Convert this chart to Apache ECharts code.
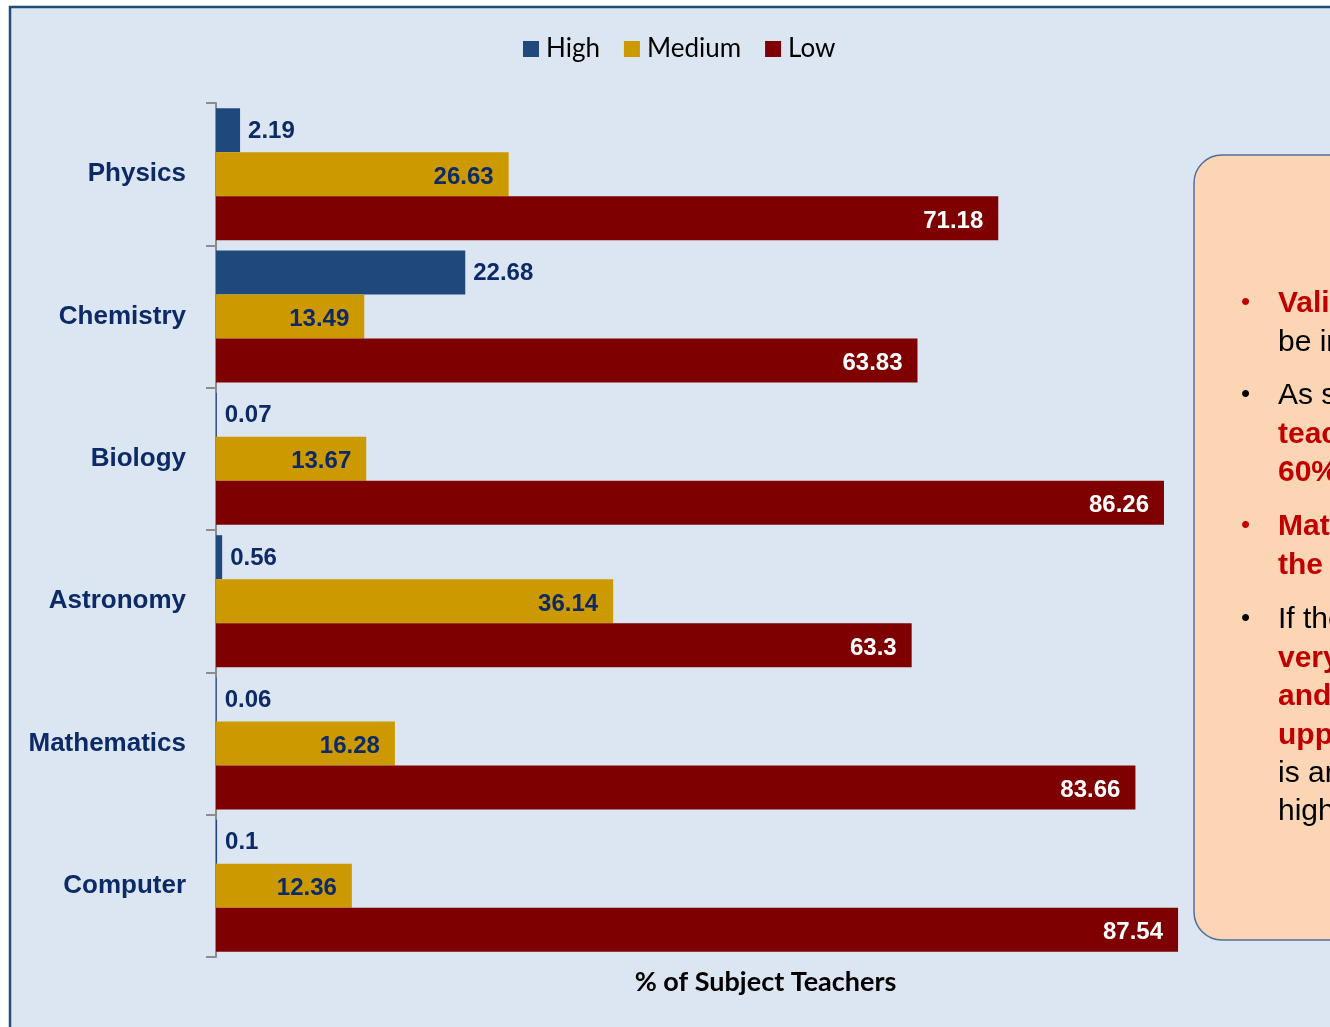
<!DOCTYPE html>
<html>
<head>
<meta charset="utf-8">
<script src="https://cdn.jsdelivr.net/npm/echarts@6/dist/echarts.min.js"></script>
<style>
  html, body { margin: 0; padding: 0; background: #ffffff; }
  #chart { width: 1330px; height: 1027px; }
</style>
</head>
<body>
<div id="chart"></div>
<script>
// Subjects, top to bottom
const subjects = ['Physics', 'Chemistry', 'Biology', 'Astronomy', 'Mathematics', 'Computer'];
// Share of subject teachers (%) per level
const highValues = [2.19, 22.68, 0.07, 0.56, 0.06, 0.1];
const mediumValues = [26.63, 13.49, 13.67, 36.14, 16.28, 12.36];
const lowValues = [71.18, 63.83, 86.26, 63.3, 83.66, 87.54];
const seriesNames = ['High', 'Medium', 'Low'];
const axisTitle = '% of Subject Teachers';

// Side note lines: [text, bold red?, bullet?]
const noteLines = [
  ['Validity', true, true],
  ['be in', false, false],
  ['As see', false, true],
  ['teach', true, false],
  ['60%', true, false],
  ['Math', true, true],
  ['the', true, false],
  ['If the', false, true],
  ['very', true, false],
  ['and', true, false],
  ['upper', true, false],
  ['is an', false, false],
  ['high', false, false]
];

const chart = echarts.init(document.getElementById('chart'));

const navy = '#0c2a66';
const labelFont = '"Liberation Sans", Arial, sans-serif';

const noteGraphics = [];
const lineYs = [302, 341, 394, 433, 471, 525, 564, 618, 657, 695, 734, 772, 810];
noteLines.forEach((ln, i) => {
  const color = ln[1] ? '#c00000' : '#000000';
  if (ln[2]) {
    noteGraphics.push({
      type: 'text', left: 1241, top: lineYs[i] - 12,
      style: { text: '\u2022', fill: color, font: '26px ' + labelFont }
    });
  }
  noteGraphics.push({
    type: 'text', left: 1278, top: lineYs[i] - 13,
    style: { text: ln[0], fill: color, font: (ln[1] ? 'bold ' : '') + '30px ' + labelFont }
  });
});

const option = {
  backgroundColor: '#ffffff',
  animation: false,
  graphic: [
    {
      type: 'rect', z: -10, silent: true,
      shape: { x: 10, y: 7, width: 1340, height: 1040 },
      style: { fill: '#dce6f2', stroke: '#1f4e79', lineWidth: 2.5 }
    },
    {
      type: 'rect', z: 1, silent: true,
      shape: { x: 1194, y: 155, width: 300, height: 785, r: 28 },
      style: { fill: '#fcd5b5', stroke: '#4f6f9f', lineWidth: 1.5 }
    }
  ].concat(noteGraphics.map(g => Object.assign({ z: 2 }, g))),
  legend: {
    left: 518, top: 31,
    itemWidth: 16, itemHeight: 16, itemGap: 24,
    icon: 'rect',
    textStyle: { fontFamily: 'Lato, "Open Sans", sans-serif', fontSize: 26, color: '#000', padding: [0, 0, 0, 2] },
    data: seriesNames
  },
  grid: { left: 216, right: 15, top: 103, bottom: 70, containLabel: false },
  xAxis: {
    type: 'value', min: 0, max: 100,
    name: axisTitle, nameLocation: 'middle', nameGap: 12,
    nameTextStyle: { fontFamily: 'Lato, "Open Sans", sans-serif', fontSize: 27, fontWeight: 'bold', color: '#000', verticalAlign: 'top' },
    axisLine: { show: false }, axisTick: { show: false },
    axisLabel: { show: false }, splitLine: { show: false }
  },
  yAxis: {
    type: 'category', data: subjects, inverse: true,
    axisLine: { show: true, lineStyle: { color: '#8c8c8c', width: 2 } },
    axisTick: { show: true, length: 10, lineStyle: { color: '#8c8c8c', width: 2 } },
    axisLabel: {
      margin: 30, color: navy, fontSize: 26, fontWeight: 'bold',
      fontFamily: labelFont
    }
  },
  series: [
    {
      name: 'High', type: 'bar', data: highValues, barGap: '0%', barCategoryGap: '7.3%',
      itemStyle: { color: '#1f497d' },
      label: { show: true, position: 'right', distance: 8, offset: [0, 1], color: navy, fontSize: 24, fontWeight: 'bold', fontFamily: labelFont }
    },
    {
      name: 'Medium', type: 'bar', data: mediumValues, barGap: '0%', barCategoryGap: '7.3%',
      itemStyle: { color: '#cc9900' },
      label: { show: true, position: 'insideRight', distance: 15, offset: [0, 3], color: navy, fontSize: 24, fontWeight: 'bold', fontFamily: labelFont }
    },
    {
      name: 'Low', type: 'bar', data: lowValues, barGap: '0%', barCategoryGap: '7.3%',
      itemStyle: { color: '#7f0000' },
      label: { show: true, position: 'insideRight', distance: 15, offset: [0, 3], color: '#ffffff', fontSize: 24, fontWeight: 'bold', fontFamily: labelFont }
    }
  ]
};

chart.setOption(option);
</script>
</body>
</html>
